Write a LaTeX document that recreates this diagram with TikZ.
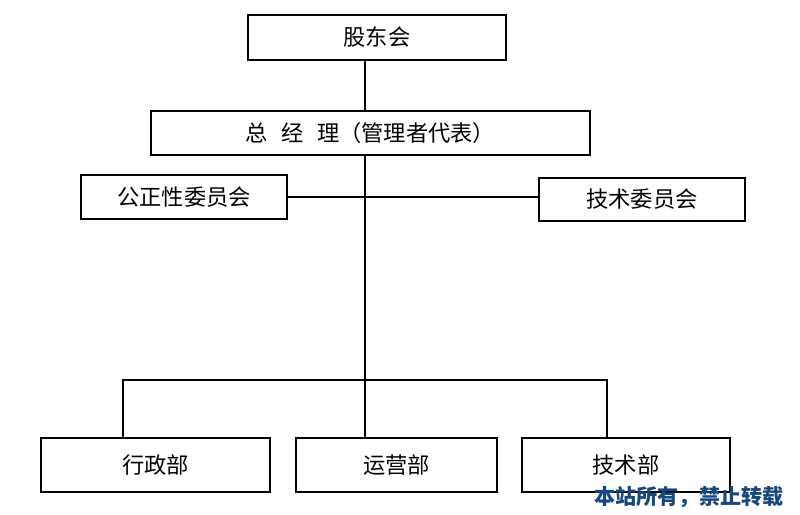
\documentclass[tikz,border=0pt]{standalone}
\usepackage{fontspec}
\newfontfamily\cjk{Noto Sans CJK SC}
\usetikzlibrary{positioning,calc}
\definecolor{markblue}{RGB}{22,72,125}

\begin{document}
\begin{tikzpicture}[
		x=0.03cm, y=-0.03cm,
		font=\cjk\fontsize{19}{21}\selectfont,
		unit/.style={
				draw, line width=1.1pt, inner sep=0pt,
				minimum height=1.32cm, align=center
			},
		dept/.style={unit, minimum height=1.62cm},
		link/.style={line width=1.1pt}
	]

	\useasboundingbox (0,0) rectangle (800,515);

	% Top levels
	\node[unit, minimum width=7.74cm, minimum height=1.35cm] (board) at (377,37.5) {股东会};
	\node[unit, minimum width=13.17cm] (gm) at (370.5,133) {总\hspace{0.6em}经\hspace{0.6em}理（管理者代表）};

	% Committees
	\node[unit, minimum width=6.18cm] (fair) at (184,197) {公正性委员会};
	\node[unit, minimum width=6.18cm, minimum height=1.29cm] (techcom) at (642,199.5) {技术委员会};

	% Departments
	\node[dept, minimum width=6.87cm] (admin) at (155.5,465) {行政部};
	\node[dept, minimum width=6.03cm] (ops) at (396.5,465) {运营部};
	\node[dept, minimum width=6.24cm] (tech) at (626,465) {技术部};

	% Spine and branch points
	\coordinate (spine) at (365,0);
	\coordinate (lbar) at (123,380);
	\coordinate (rbar) at (607,380);

	% Connectors
	\draw[link] (board.south -| spine) -- (gm.north -| spine);
	\draw[link] (gm.south -| spine) -- (ops.north -| spine);
	\draw[link] (fair.east) -- (fair.east -| techcom.west);
	\draw[link] (admin.north -| lbar) -- (lbar) -- (rbar) -- (tech.north -| rbar);

	% Watermark
	\node[anchor=east, text=markblue, font=\cjk\bfseries\fontsize{18}{20}\selectfont] (mark) at (788,497) {本站所有，禁止转载};

\end{tikzpicture}
\end{document}
